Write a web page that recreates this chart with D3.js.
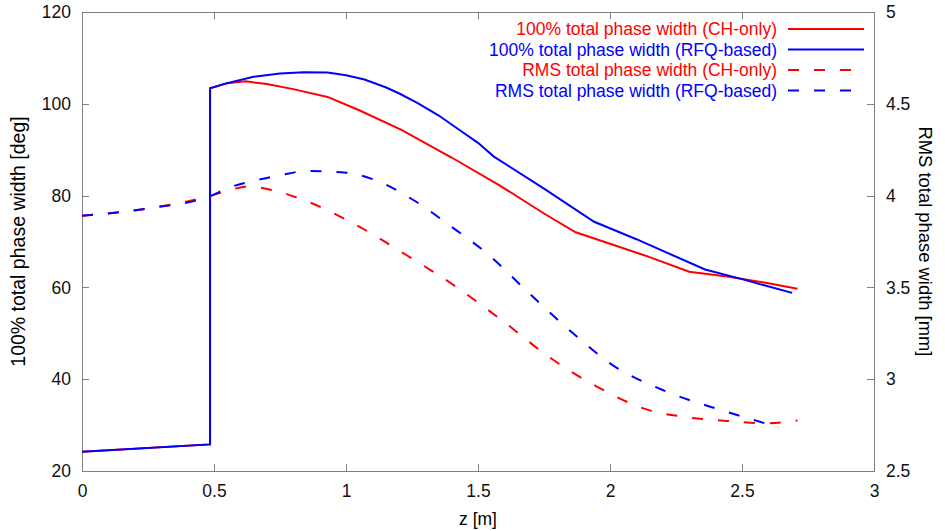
<!DOCTYPE html>
<html lang="en">
    <head>
        <meta charset="utf-8">
        <title>Phase width</title>
        <script type="text/javascript" src="https://cdn.jsdelivr.net/npm/d3@7/dist/d3.min.js"></script>
        <style type="text/css">
        body { margin: 0; background: #fff; }
        text { font-family: "Liberation Sans", Arial, sans-serif; }
        .axis path, .axis line {
            fill: none;
            stroke: #808080;
            shape-rendering: crispEdges;
        }
        .axis text { font-size: 17.5px; fill: #111; }
        </style>
    </head>
    <body>
        <script>
                var w = 945;
                var h = 531;
                var m = {left: 82, right: 71, top: 12, bottom: 60};

                // 100% total phase width, CH-only [deg]
                var zRedSolid = [0, 0.485, 0.485, 0.55, 0.62, 0.7, 0.8, 0.93, 1.05, 1.21, 1.4, 1.58, 1.75, 1.87, 2.0, 2.15, 2.3, 2.45, 2.59, 2.71];
                var vRedSolid = [24.2, 25.8, 103.4, 104.5, 104.9, 104.3, 103.2, 101.5, 98.6, 94.3, 88.3, 82.3, 76.1, 72.0, 69.5, 66.6, 63.4, 62.3, 61.0, 59.7];

                // 100% total phase width, RFQ-based [deg]
                var zBlueSolid = [0, 0.485, 0.485, 0.55, 0.65, 0.75, 0.84, 0.93, 1.0, 1.07, 1.15, 1.2, 1.27, 1.35, 1.43, 1.5, 1.56, 1.75, 1.94, 2.1, 2.36, 2.5, 2.69];
                var vBlueSolid = [24.2, 25.8, 103.4, 104.5, 105.9, 106.6, 106.9, 106.8, 106.2, 105.3, 103.6, 102.3, 100.2, 97.5, 94.3, 91.5, 88.5, 81.5, 74.3, 70.5, 63.9, 61.8, 58.8];

                // RMS total phase width, CH-only [mm]
                var zRedDash = [0, 0.25, 0.49, 0.56, 0.63, 0.72, 0.85, 1.0, 1.23, 1.4, 1.6, 1.77, 1.95, 2.15, 2.28, 2.47, 2.59, 2.71];
                var vRedDash = [3.89, 3.93, 4.0, 4.03, 4.05, 4.03, 3.97, 3.87, 3.675, 3.52, 3.31, 3.12, 2.96, 2.83, 2.795, 2.77, 2.76, 2.775];

                // RMS total phase width, RFQ-based [mm]
                var zBlueDash = [0, 0.25, 0.49, 0.55, 0.65, 0.75, 0.85, 1.0, 1.1, 1.255, 1.4, 1.533, 1.7, 1.86, 2.01, 2.215, 2.42, 2.64];
                var vBlueDash = [3.89, 3.93, 4.0, 4.04, 4.08, 4.11, 4.134, 4.125, 4.09, 3.976, 3.83, 3.686, 3.46, 3.25, 3.077, 2.932, 2.832, 2.738];

                var xTicks = [0, 0.5, 1, 1.5, 2, 2.5, 3];
                var yLeftTicks = [20, 40, 60, 80, 100, 120];
                var yRightTicks = [2.5, 3, 3.5, 4, 4.5, 5];

                var legendLabels = ["100% total phase width (CH-only)", "100% total phase width (RFQ-based)",
                                    "RMS total phase width (CH-only)", "RMS total phase width (RFQ-based)"];

                var red = "#ff0000", blue = "#0000ff";

                var xScale = d3.scaleLinear().domain([0, 3]).range([m.left, w - m.right]);
                var yLeft = d3.scaleLinear().domain([20, 120]).range([h - m.bottom, m.top]);
                var yRight = d3.scaleLinear().domain([2.5, 5]).range([h - m.bottom, m.top]);

                var svg = d3.select("body").append("svg")
                  .attr("width", w)
                  .attr("height", h);

                // bottom axis, ticks inward
                svg.append("g").attr("class", "axis")
                  .attr("transform", "translate(0," + (h - m.bottom) + ")")
                  .call(d3.axisBottom(xScale).tickValues(xTicks).tickSize(-7).tickPadding(14)
                    .tickFormat(d3.format("")));

                // top axis, ticks only
                svg.append("g").attr("class", "axis")
                  .attr("transform", "translate(0," + m.top + ")")
                  .call(d3.axisTop(xScale).tickValues(xTicks).tickSize(-7).tickFormat(""));

                svg.append("g").attr("class", "axis")
                  .attr("transform", "translate(" + m.left + ",0)")
                  .call(d3.axisLeft(yLeft).tickValues(yLeftTicks).tickSize(-7).tickPadding(11));

                svg.append("g").attr("class", "axis")
                  .attr("transform", "translate(" + (w - m.right) + ",0)")
                  .call(d3.axisRight(yRight).tickValues(yRightTicks).tickSize(-7).tickPadding(12)
                    .tickFormat(d3.format("")));

                svg.selectAll(".axis .domain").remove();
                svg.append("rect")
                  .attr("x", m.left).attr("y", m.top)
                  .attr("width", w - m.left - m.right).attr("height", h - m.top - m.bottom)
                  .attr("fill", "none").attr("stroke", "#808080")
                  .attr("shape-rendering", "crispEdges");

                function pairs(zs, vs) {
                  return zs.map(function (z, i) { return [z, vs[i]]; });
                }

                var lineL = d3.line()
                  .x(function (d) { return xScale(d[0]); })
                  .y(function (d) { return yLeft(d[1]); });
                var lineR = d3.line()
                  .x(function (d) { return xScale(d[0]); })
                  .y(function (d) { return yRight(d[1]); })
                  .curve(d3.curveMonotoneX);

                var dash = "11,15";

                svg.append("path").datum(pairs(zRedSolid, vRedSolid))
                  .attr("fill", "none").attr("stroke", red).attr("stroke-width", 2).attr("d", lineL);
                svg.append("path").datum(pairs(zBlueSolid, vBlueSolid))
                  .attr("fill", "none").attr("stroke", blue).attr("stroke-width", 2).attr("d", lineL);
                svg.append("path").datum(pairs(zRedDash, vRedDash))
                  .attr("fill", "none").attr("stroke", red).attr("stroke-width", 2)
                  .attr("stroke-dasharray", dash).attr("d", lineR);
                svg.append("path").datum(pairs(zBlueDash, vBlueDash))
                  .attr("fill", "none").attr("stroke", blue).attr("stroke-width", 2)
                  .attr("stroke-dasharray", dash).attr("d", lineR);

                // legend
                var colors = [red, blue, red, blue];
                var legend = svg.append("g");
                legendLabels.forEach(function (lab, i) {
                  var y = 29 + i * 20.5;
                  legend.append("text")
                    .text(lab)
                    .attr("x", 777).attr("y", y)
                    .attr("dy", "0.35em")
                    .attr("text-anchor", "end")
                    .attr("font-size", "17.5px")
                    .attr("fill", colors[i]);
                  legend.append("line")
                    .attr("x1", 788).attr("x2", 864)
                    .attr("y1", y).attr("y2", y)
                    .attr("stroke", colors[i]).attr("stroke-width", 2)
                    .attr("stroke-dasharray", i > 1 ? dash : null);
                });

                // axis titles
                svg.append("text")
                  .text("z [m]")
                  .attr("x", (m.left + w - m.right) / 2)
                  .attr("y", 525)
                  .attr("text-anchor", "middle")
                  .attr("font-size", "17.5px");

                svg.append("text")
                  .text("100% total phase width [deg]")
                  .attr("transform", "translate(25," + ((m.top + h - m.bottom) / 2) + ") rotate(-90)")
                  .attr("text-anchor", "middle")
                  .attr("font-size", "19.5px");

                svg.append("text")
                  .text("RMS total phase width [mm]")
                  .attr("transform", "translate(919," + ((m.top + h - m.bottom) / 2) + ") rotate(90)")
                  .attr("text-anchor", "middle")
                  .attr("font-size", "18.4px");
            </script>
    </body>
</html>
